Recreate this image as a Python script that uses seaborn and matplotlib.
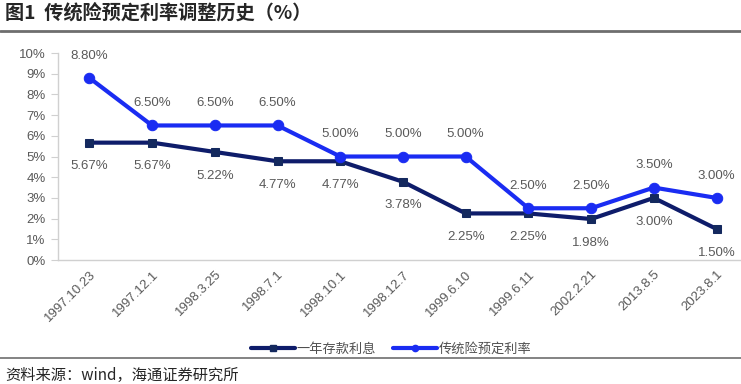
import matplotlib
matplotlib.use('Agg')
import matplotlib.pyplot as plt
import seaborn as sns
import pandas as pd
from matplotlib.lines import Line2D

# Data
DATES = ['1997.10.23', '1997.12.1', '1998.3.25', '1998.7.1', '1998.10.1', '1998.12.7',
         '1999.6.10', '1999.6.11', '2002.2.21', '2013.8.5', '2023.8.1']
DEPOSIT_RATE = [5.67, 5.67, 5.22, 4.77, 4.77, 3.78, 2.25, 2.25, 1.98, 3.00, 1.50]
INSURANCE_RATE = [8.80, 6.50, 6.50, 6.50, 5.00, 5.00, 5.00, 2.50, 2.50, 3.50, 3.00]
Y_TICKS = list(range(0, 11))

DARK = '#0E1C6A'
DARK_MARKER = '#14295E'
BLUE = '#1A2CF2'
GRAY_TEXT = '#595959'

sns.set_style('white')
plt.rcParams['font.family'] = ['Liberation Sans', 'Noto Sans CJK SC']

df = pd.DataFrame({'pos': range(len(DATES)), 'date': DATES,
                   'deposit': DEPOSIT_RATE, 'insurance': INSURANCE_RATE})

fig = plt.figure(figsize=(7.41, 3.84), dpi=100)
ax = fig.add_axes([0.0783, 0.3229, 0.931, 0.539])

sns.lineplot(data=df, x='pos', y='deposit', ax=ax, color=DARK, linewidth=3,
             marker='s', markersize=6, markerfacecolor=DARK_MARKER,
             markeredgecolor=DARK_MARKER, sort=False)
sns.lineplot(data=df, x='pos', y='insurance', ax=ax, color=BLUE, linewidth=3,
             marker='o', markersize=7.5, markerfacecolor=BLUE,
             markeredgecolor=BLUE, sort=False)

# data labels
for i, row in df.iterrows():
    ax.annotate(f"{row['insurance']:.2f}%", (row['pos'], row['insurance']),
                xytext=(0, 16), textcoords='offset points', ha='center', va='center',
                fontsize=9.5, color=GRAY_TEXT)
    ax.annotate(f"{row['deposit']:.2f}%", (row['pos'], row['deposit']),
                xytext=(0, -17), textcoords='offset points', ha='center', va='center',
                fontsize=9.5, color=GRAY_TEXT)

ax.set_xlim(-0.5, len(DATES) - 0.5)
ax.set_ylim(0, 10)
ax.set_yticks(Y_TICKS)
ax.set_yticklabels([f'{v}%' for v in Y_TICKS], fontsize=9.5, color=GRAY_TEXT)
ax.set_xticks(df['pos'])
ax.set_xticklabels(DATES, rotation=45, ha='right', va='top', rotation_mode='anchor',
                   fontsize=9.5, color=GRAY_TEXT)
ax.tick_params(axis='y', length=5, width=0.8, color='#D0D0D0', pad=4, left=True)
ax.tick_params(axis='x', length=0, pad=6)
ax.set_xlabel('')
ax.set_ylabel('')
for s in ['top', 'right']:
    ax.spines[s].set_visible(False)
for s in ['left', 'bottom']:
    ax.spines[s].set_color('#D0D0D0')
    ax.spines[s].set_linewidth(1)

# legend
handles = [
    Line2D([], [], color=DARK, linewidth=3, marker='s', markersize=4.5,
           markerfacecolor=DARK_MARKER, markeredgecolor=DARK_MARKER),
    Line2D([], [], color=BLUE, linewidth=3, marker='o', markersize=4.5,
           markerfacecolor=BLUE, markeredgecolor=BLUE),
]
fig.legend(handles, ['一年存款利息', '传统险预定利率'], loc='center',
           bbox_to_anchor=(0.528, 1 - 349 / 384), ncol=2, frameon=False,
           handlelength=3.3, handletextpad=0.15, columnspacing=1.3,
           prop={'family': ['Noto Sans CJK SC'], 'size': 9.5})
for t in fig.legends[0].get_texts():
    t.set_color('#505050')

# title / source
fig.text(0.007, 1 - 14 / 384, '图1  传统险预定利率调整历史（%）', fontsize=13.8,
         fontweight='bold', va='center', ha='left', family=['Noto Sans CJK SC'])
fig.add_artist(Line2D([0, 1], [1 - 31 / 384] * 2, color='#6E6E6E', linewidth=2))
fig.add_artist(Line2D([0, 1], [1 - 358 / 384] * 2, color='#6E6E6E', linewidth=1.2))
fig.text(0.007, 1 - 375 / 384, '资料来源：wind，海通证券研究所', fontsize=11,
         va='center', ha='left', family=['Noto Sans CJK SC'])

fig.savefig('out.png', dpi=100)
